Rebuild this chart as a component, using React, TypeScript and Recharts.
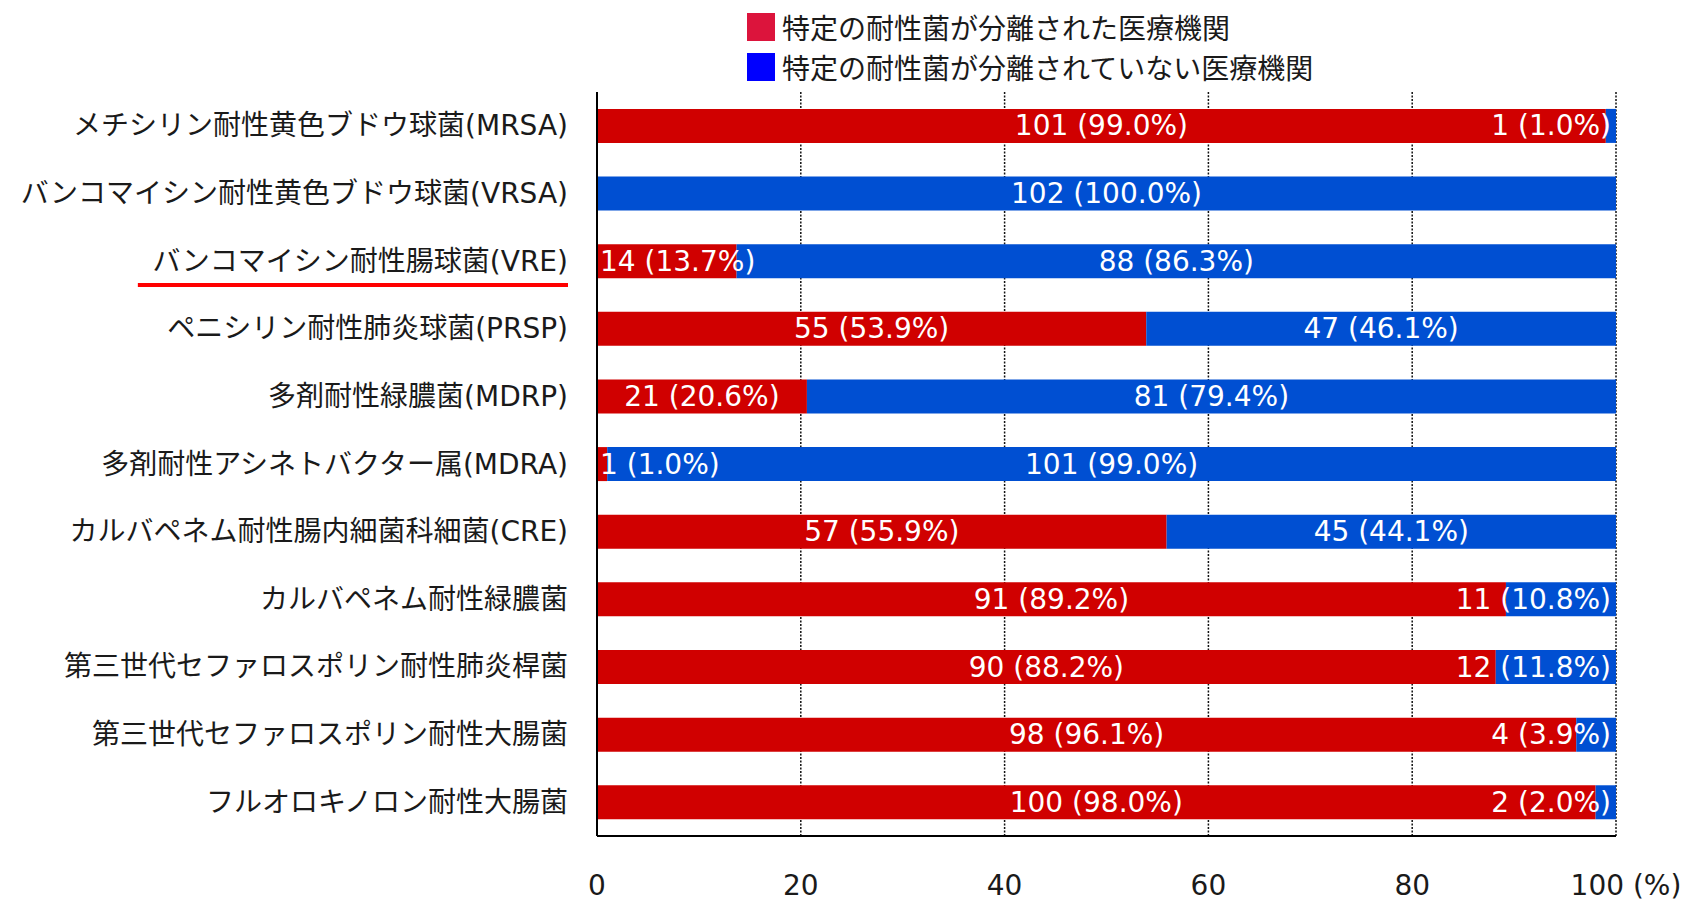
import React from 'react'
import { BarChart, Bar, XAxis, YAxis, CartesianGrid, LabelList } from 'recharts'

const categories = [
  'メチシリン耐性黄色ブドウ球菌(MRSA)',
  'バンコマイシン耐性黄色ブドウ球菌(VRSA)',
  'バンコマイシン耐性腸球菌(VRE)',
  'ペニシリン耐性肺炎球菌(PRSP)',
  '多剤耐性緑膿菌(MDRP)',
  '多剤耐性アシネトバクター属(MDRA)',
  'カルバペネム耐性腸内細菌科細菌(CRE)',
  'カルバペネム耐性緑膿菌',
  '第三世代セファロスポリン耐性肺炎桿菌',
  '第三世代セファロスポリン耐性大腸菌',
  'フルオロキノロン耐性大腸菌',
]

const isolatedCount = [101, 0, 14, 55, 21, 1, 57, 91, 90, 98, 100]
const isolatedPct = [99.0, 0, 13.7, 53.9, 20.6, 1.0, 55.9, 89.2, 88.2, 96.1, 98.0]
const notIsolatedCount = [1, 102, 88, 47, 81, 101, 45, 11, 12, 4, 2]
const notIsolatedPct = [1.0, 100.0, 86.3, 46.1, 79.4, 99.0, 44.1, 10.8, 11.8, 3.9, 2.0]

const xTicks = [0, 20, 40, 60, 80, 100]
const highlighted = ['バンコマイシン耐性腸球菌(VRE)']

const seriesNames = ['特定の耐性菌が分離された医療機関', '特定の耐性菌が分離されていない医療機関']

const W = 1702
const H = 900
const MARGIN = { top: 92, right: 86, bottom: 0, left: 0 }
const YAXIS_W = 597
const PLOT_LEFT = MARGIN.left + YAXIS_W
const PLOT_RIGHT = W - MARGIN.right
const FONT = "'DejaVu Sans', 'Noto Sans CJK JP', sans-serif"
const FS = 28

const fmt = (count: number, pct: number) => (count ? `${count} (${pct.toFixed(1)}%)` : '')

const data = categories.map((name, i) => ({
  name,
  isolated: isolatedPct[i],
  notIsolated: notIsolatedPct[i],
  isolatedLabel: fmt(isolatedCount[i], isolatedPct[i]),
  notIsolatedLabel: fmt(notIsolatedCount[i], notIsolatedPct[i]),
}))

let ctx: CanvasRenderingContext2D | null = null
function measure(text: string) {
  if (!ctx) ctx = document.createElement('canvas').getContext('2d')
  if (!ctx) return text.length * FS * 0.6
  ctx.font = `${FS}px ${FONT}`
  return ctx.measureText(text).width
}

// centred in its segment, pushed back inside the plot when it would spill out
function SegmentLabel(props: any) {
  const { x, y, width, height, value } = props
  const text = value as string
  if (!text) return null
  const w = measure(text)
  let tx = x + width / 2
  let anchor: 'middle' | 'start' | 'end' = 'middle'
  if (tx - w / 2 < PLOT_LEFT + 3) {
    tx = PLOT_LEFT + 3
    anchor = 'start'
  } else if (tx + w / 2 > PLOT_RIGHT - 5) {
    tx = PLOT_RIGHT - 5
    anchor = 'end'
  }
  return (
    <text x={tx} y={y + height / 2} textAnchor={anchor} dominantBaseline="central"
      fill="#fff" fontSize={FS} fontFamily={FONT}>
      {text}
    </text>
  )
}

function YTick({ x, y, payload }: any) {
  const label = payload.value as string
  const tx = x - 21
  const under = highlighted.includes(label)
  const w = under ? measure(label) : 0
  return (
    <g>
      <text x={tx} y={y} textAnchor="end" dominantBaseline="central" fill="#1a1a1a"
        fontSize={FS} fontFamily={FONT}>
        {label}
      </text>
      {under && <line x1={tx - w - 16} x2={tx} y1={y + 24} y2={y + 24} stroke="#ff0000" strokeWidth={4} />}
    </g>
  )
}

function XTick({ x, y, payload }: any) {
  const v = payload.value as number
  return (
    <text x={v === 100 ? x + 10 : x} y={y + 41} textAnchor="middle" dominantBaseline="central" fill="#1a1a1a"
      fontSize={FS} fontFamily={FONT}>
      {v === 100 ? '100 (%)' : v}
    </text>
  )
}

const legendColors = ['#dc143c', '#0000ff']

export default function App() {
  return (
    <div style={{ position: 'absolute', left: 0, top: 0, width: W, height: H, background: '#fff' }}>
      <BarChart width={W} height={H} data={data} layout="vertical" margin={MARGIN} barCategoryGap="25%">
        <CartesianGrid horizontal={false} stroke="#111" strokeWidth={1.5} strokeDasharray="2 1.5" />
        <XAxis type="number" domain={[0, 100]} ticks={xTicks} tickLine={false}
          axisLine={{ stroke: '#000', strokeWidth: 2 }} height={64} tick={<XTick />} interval={0} />
        <YAxis type="category" dataKey="name" width={YAXIS_W} tickLine={false}
          axisLine={{ stroke: '#000', strokeWidth: 2 }} tick={<YTick />} interval={0} />
        <Bar dataKey="isolated" stackId="a" fill="#d00000" isAnimationActive={false}>
          <LabelList dataKey="isolatedLabel" content={<SegmentLabel />} />
        </Bar>
        <Bar dataKey="notIsolated" stackId="a" fill="#004fd2" isAnimationActive={false}>
          <LabelList dataKey="notIsolatedLabel" content={<SegmentLabel />} />
        </Bar>
      </BarChart>
      <div style={{ position: 'absolute', left: 747, top: 7, fontFamily: FONT, fontSize: FS, color: '#1a1a1a' }}>
        {seriesNames.map((n, i) => (
          <div key={n} style={{ display: 'flex', alignItems: 'center', height: 40 }}>
            <span style={{ width: 28, height: 28, background: legendColors[i], marginRight: 7, display: 'inline-block' }} />
            <span style={{ whiteSpace: 'nowrap' }}>{n}</span>
          </div>
        ))}
      </div>
    </div>
  )
}
